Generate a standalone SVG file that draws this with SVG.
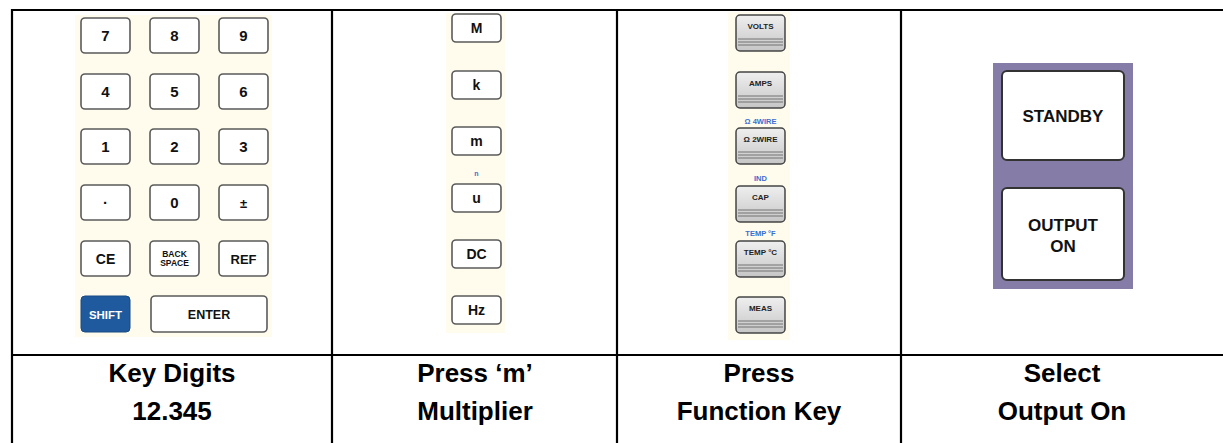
<svg xmlns="http://www.w3.org/2000/svg" width="1223" height="443" viewBox="0 0 1223 443">
<style>
.grid{stroke:#000;stroke-width:2.2;fill:none}
.bg{fill:#fffcee}
.key{fill:#fff;stroke:#5a5a5a;stroke-width:1.6}
.kt{font-family:"Liberation Sans",Arial,sans-serif;font-weight:bold;fill:#111;text-anchor:middle}
.fk{fill:url(#fg);stroke:#444;stroke-width:1.5}
.ft{font-family:"Liberation Sans",Arial,sans-serif;font-weight:bold;fill:#222;text-anchor:middle;font-size:8px}
.bl{font-family:"Liberation Sans",Arial,sans-serif;font-weight:bold;fill:#3a6fd0;text-anchor:middle;font-size:7.5px}
.st{stroke:#666;stroke-width:0.9}
.cap{font-family:"Liberation Sans",Arial,sans-serif;font-weight:bold;fill:#000;text-anchor:middle;font-size:26px}
.big{fill:#fff;stroke:#333;stroke-width:2}
</style>
<defs>
<linearGradient id="fg" x1="0" y1="0" x2="0" y2="1"><stop offset="0" stop-color="#efefef"/><stop offset="1" stop-color="#c6c6c6"/></linearGradient>
<g id="stripes"><line class="st" x1="2" x2="47" y1="0" y2="0"/><line class="st" x1="2" x2="47" y1="3" y2="3"/><line class="st" x1="2" x2="47" y1="6" y2="6"/></g>
</defs>
<rect width="1223" height="443" fill="#fff"/>

<g id="keypad">
<rect class="bg" x="75" y="15" width="197" height="322"/>
<g class="kt" font-size="15">
<rect class="key" x="81" y="18" width="49" height="35" rx="4"/><text x="105.5" y="41">7</text>
<rect class="key" x="150" y="18" width="49" height="35" rx="4"/><text x="174.5" y="41">8</text>
<rect class="key" x="219" y="18" width="49" height="35" rx="4"/><text x="243.5" y="41">9</text>
<rect class="key" x="81" y="74" width="49" height="35" rx="4"/><text x="105.5" y="97">4</text>
<rect class="key" x="150" y="74" width="49" height="35" rx="4"/><text x="174.5" y="97">5</text>
<rect class="key" x="219" y="74" width="49" height="35" rx="4"/><text x="243.5" y="97">6</text>
<rect class="key" x="81" y="129" width="49" height="35" rx="4"/><text x="105.5" y="152">1</text>
<rect class="key" x="150" y="129" width="49" height="35" rx="4"/><text x="174.5" y="152">2</text>
<rect class="key" x="219" y="129" width="49" height="35" rx="4"/><text x="243.5" y="152">3</text>
<rect class="key" x="81" y="185" width="49" height="35" rx="4"/><text x="105.5" y="207.5">·</text>
<rect class="key" x="150" y="185" width="49" height="35" rx="4"/><text x="174.5" y="208">0</text>
<rect class="key" x="219" y="185" width="49" height="35" rx="4"/><text x="243.5" y="207.5" font-size="13">±</text>
<rect class="key" x="81" y="241" width="49" height="35" rx="4"/><text x="105.5" y="263.5" font-size="14">CE</text>
<rect class="key" x="150" y="241" width="49" height="35" rx="4"/><text x="174.5" y="257" font-size="8.5">BACK</text><text x="174.5" y="266" font-size="8.5">SPACE</text>
<rect class="key" x="219" y="241" width="49" height="35" rx="4"/><text x="243.5" y="263.5" font-size="13">REF</text>
<rect x="81" y="296" width="49" height="36" rx="4" fill="#1f5a9e" stroke="#1a4a80" stroke-width="1"/><text x="105.5" y="318.5" font-size="11.5" fill="#fff">SHIFT</text>
<rect class="key" x="151" y="296" width="116" height="36" rx="4"/><text x="209" y="319" font-size="12.5">ENTER</text>
</g>
</g>

<g id="multiplier">
<rect class="bg" x="446" y="13" width="59" height="320"/>
<g class="kt" font-size="14">
<rect class="key" x="452" y="14" width="49" height="28" rx="4"/><text x="476.5" y="33">M</text>
<rect class="key" x="452" y="71" width="49" height="28" rx="4"/><text x="476.5" y="90">k</text>
<rect class="key" x="452" y="127" width="49" height="28" rx="4"/><text x="476.5" y="146">m</text>
<text x="476.5" y="176" font-size="7" fill="#3a6fd0">n</text>
<rect class="key" x="452" y="184" width="49" height="28" rx="4"/><text x="476.5" y="203">u</text>
<rect class="key" x="452" y="240" width="49" height="28" rx="4"/><text x="476.5" y="259">DC</text>
<rect class="key" x="452" y="296" width="49" height="28" rx="4"/><text x="476.5" y="315">Hz</text>
</g>
</g>

<g id="function-keys">
<rect class="bg" x="728" y="12" width="62" height="328"/>
<rect class="fk" x="736" y="15" width="49" height="36" rx="4"/><text class="ft" x="760.5" y="29">VOLTS</text><use href="#stripes" x="736" y="39"/>
<rect class="fk" x="736" y="72" width="49" height="36" rx="4"/><text class="ft" x="760.5" y="86">AMPS</text><use href="#stripes" x="736" y="96"/>
<text class="bl" x="760.5" y="124">Ω 4WIRE</text>
<rect class="fk" x="736" y="128" width="49" height="36" rx="4"/><text class="ft" x="760.5" y="142">Ω 2WIRE</text><use href="#stripes" x="736" y="152"/>
<text class="bl" x="760.5" y="181">IND</text>
<rect class="fk" x="736" y="186" width="49" height="36" rx="4"/><text class="ft" x="760.5" y="200">CAP</text><use href="#stripes" x="736" y="210"/>
<text class="bl" x="760.5" y="236">TEMP °F</text>
<rect class="fk" x="736" y="241" width="49" height="36" rx="4"/><text class="ft" x="760.5" y="255">TEMP °C</text><use href="#stripes" x="736" y="265"/>
<rect class="fk" x="736" y="297" width="49" height="36" rx="4"/><text class="ft" x="760.5" y="311">MEAS</text><use href="#stripes" x="736" y="321"/>
</g>

<g id="output-panel">
<rect x="993" y="63" width="140" height="226" fill="#857da8"/>
<rect class="big" x="1002" y="71" width="122" height="89" rx="5"/>
<rect class="big" x="1002" y="188" width="122" height="92" rx="5"/>
<g class="kt" font-size="17" fill="#222">
<text x="1063" y="122">STANDBY</text>
<text x="1063" y="231">OUTPUT</text>
<text x="1063" y="252">ON</text>
</g>
</g>

<g id="table">
<line class="grid" x1="11" y1="10" x2="1223" y2="10"/>
<line class="grid" x1="12" y1="9" x2="12" y2="443"/>
<line class="grid" x1="332" y1="9" x2="332" y2="443"/>
<line class="grid" x1="617" y1="9" x2="617" y2="443"/>
<line class="grid" x1="901" y1="9" x2="901" y2="443"/>
<line class="grid" x1="11" y1="355" x2="1223" y2="355"/>
</g>

<g id="captions">
<text class="cap" x="172" y="382">Key Digits</text>
<text class="cap" x="172" y="420">12.345</text>
<text class="cap" x="475" y="382">Press ‘m’</text>
<text class="cap" x="475" y="420">Multiplier</text>
<text class="cap" x="759" y="382">Press</text>
<text class="cap" x="759" y="420">Function Key</text>
<text class="cap" x="1062" y="382">Select</text>
<text class="cap" x="1062" y="420">Output On</text>
</g>
</svg>
